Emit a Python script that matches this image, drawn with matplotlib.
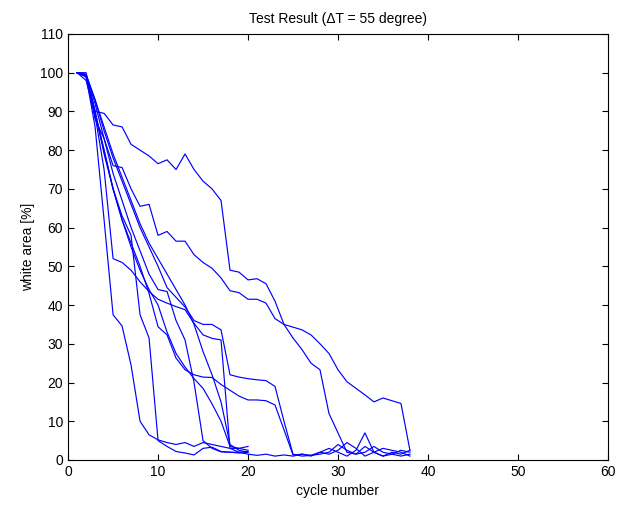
import matplotlib
matplotlib.use("Agg")
import matplotlib.pyplot as plt

plt.rcParams['font.family'] = ['Liberation Sans', 'DejaVu Sans']

# white area [%] per cycle, one list per sample (cycle 1, 2, 3, ...)
s1 = [100, 100, 90, 89.5, 86.5, 86, 81.5, 80, 78.5, 76.5, 77.5, 75, 79, 75, 72, 70, 67, 49, 48.5,
      46.5, 46.8, 45.5, 41, 35, 31.5, 28.5, 25, 23.3, 12, 7, 2, 1.5, 3.5, 2, 1, 1.5, 2.5, 2]
s2 = [100, 99.5, 88, 83, 76, 75.5, 70, 65.5, 66, 58, 59, 56.5, 56.5, 53, 51, 49.5, 47, 43.7, 43.2,
      41.5, 41.5, 40.5, 36.5, 35, 34.3, 33.6, 32.3, 30, 27.5, 23.3, 20.2, 18.5, 16.8, 15, 16, 15.3, 14.6, 2.5]
s3 = [100, 99.5, 93, 85, 78, 72, 66, 60, 55, 50, 44.5, 42, 39.5, 36, 35, 35, 33.6, 22, 21.4,
      21, 20.7, 20.5, 19, 10, 1.5, 1, 1.2, 1.5, 2, 4, 2.5, 1.5, 2, 3.5, 2, 1.5, 1, 1.5]
s4 = [100, 99, 90, 80, 70, 62, 56, 50, 43, 34.4, 32.3, 26.3, 23.3, 22, 21.4, 21.3, 19.5, 18, 16.5,
      15.5, 15.5, 15.3, 14.2, 7.8, 1.3, 1.5, 1, 2, 1.5, 2.5, 4.5, 3, 1, 2, 3, 2.5, 2, 1]
s5 = [100, 99, 89, 75, 52, 51, 49, 46, 43.5, 41.5, 40.5, 39.6, 38.8, 35.3, 32.3, 31.4, 31, 3, 2,
      1.5, 1.2, 1.5, 1, 1.3, 1, 1.5, 1.2, 2, 3, 2, 1, 2.5, 7, 2, 1, 2, 1.5, 2.5]
s6 = [100, 99, 86, 62, 37.5, 34.6, 24.5, 10, 6.5, 5.2, 4.5, 4, 4.5, 3.5, 4.5, 4, 3.5, 3, 3, 3.5]
s7 = [100, 99, 90, 79, 70, 63, 58, 37.5, 31.5, 5, 3.5, 2.2, 1.8, 1.3, 3, 3.3, 2.2, 2, 2, 2.2]
s8 = [100, 99.5, 92, 83, 74, 67, 60, 54, 48, 44, 43.5, 36, 31, 20, 5, 3, 2.1, 2, 1.8, 2]
s9 = [100, 98, 89, 80, 70, 62, 55, 49, 44, 40, 33, 27.5, 24, 21, 18.5, 14.5, 10, 3.5, 3, 2.5]
s10 = [100, 99.5, 93, 86, 79, 73, 67, 61, 56, 52, 48, 44, 40, 35, 28, 22, 15, 4, 2.5, 2]

samples = [s1, s2, s3, s4, s5, s6, s7, s8, s9, s10]

fig = plt.figure(figsize=(6.19, 5.09), dpi=100)
ax = fig.add_axes([0.110, 0.0963, 0.872, 0.837])

for s in samples:
    ax.plot(range(1, len(s) + 1), s, color='blue', linewidth=0.85)

ax.set_xlim(0, 60)
ax.set_ylim(0, 110)
ax.set_xticks(range(0, 61, 10))
ax.set_yticks(range(0, 111, 10))
ax.tick_params(direction='in', top=True, right=True, labelsize=10, length=4)
for sp in ax.spines.values():
    sp.set_linewidth(0.8)

ax.set_title('Test Result (\u0394T = 55 degree)', fontsize=10, pad=8)
ax.set_xlabel('cycle number', fontsize=10)
ax.set_ylabel('white area [%]', fontsize=10)

fig.savefig('out.png', dpi=100)
